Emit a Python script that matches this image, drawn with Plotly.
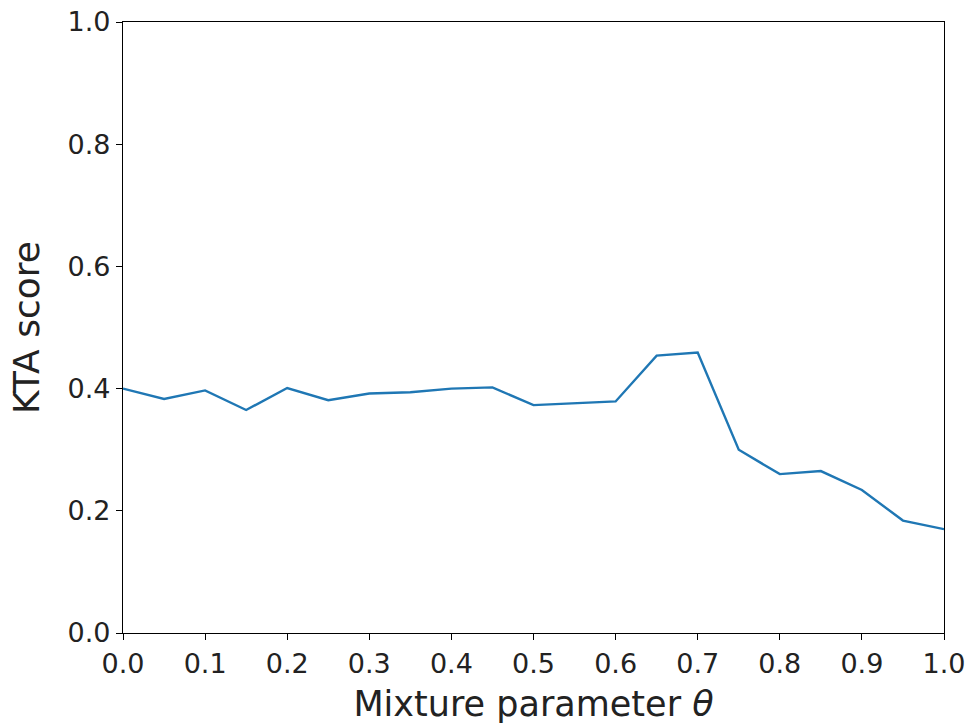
import plotly.graph_objects as go

theta = [0.0, 0.05, 0.1, 0.15, 0.2, 0.25, 0.3, 0.35, 0.4, 0.45, 0.5,
         0.55, 0.6, 0.65, 0.7, 0.75, 0.8, 0.85, 0.9, 0.95, 1.0]
kta = [0.400, 0.383, 0.397, 0.365, 0.401, 0.381, 0.392, 0.394, 0.400, 0.402, 0.373,
       0.376, 0.379, 0.454, 0.459, 0.300, 0.260, 0.265, 0.234, 0.184, 0.170]
tick_vals = [0.0, 0.1, 0.2, 0.3, 0.4, 0.5, 0.6, 0.7, 0.8, 0.9, 1.0]
y_ticks = [0.0, 0.2, 0.4, 0.6, 0.8, 1.0]

fig = go.Figure()
fig.add_trace(go.Scatter(x=theta, y=kta, mode="lines",
                         line=dict(color="#1f77b4", width=2.4), showlegend=False))

font = "DejaVu Sans, Arial, sans-serif"
axis_common = dict(showline=True, linecolor="black", linewidth=1.3, mirror=True,
                   ticks="outside", ticklen=6, tickwidth=1.3, tickcolor="black",
                   showgrid=False, zeroline=False, automargin=False,
                   tickfont=dict(family=font, size=27, color="#222"))

fig.update_layout(
    width=971, height=724,
    margin=dict(l=123, r=27, t=22, b=91),
    paper_bgcolor="white", plot_bgcolor="white",
    xaxis=dict(range=[0, 1], tickvals=tick_vals, ticktext=[f"{v:.1f}" for v in tick_vals],
               title=dict(text="Mixture parameter <i>θ</i>",
                          font=dict(family=font, size=35, color="#222"),
                          standoff=14),
               **axis_common),
    yaxis=dict(range=[0, 1], tickvals=y_ticks, ticktext=[f"{v:.1f}" for v in y_ticks],
               title=dict(text="KTA score", font=dict(family=font, size=36, color="#222"),
                          standoff=16),
               **axis_common),
)

fig.write_html("out.html")
